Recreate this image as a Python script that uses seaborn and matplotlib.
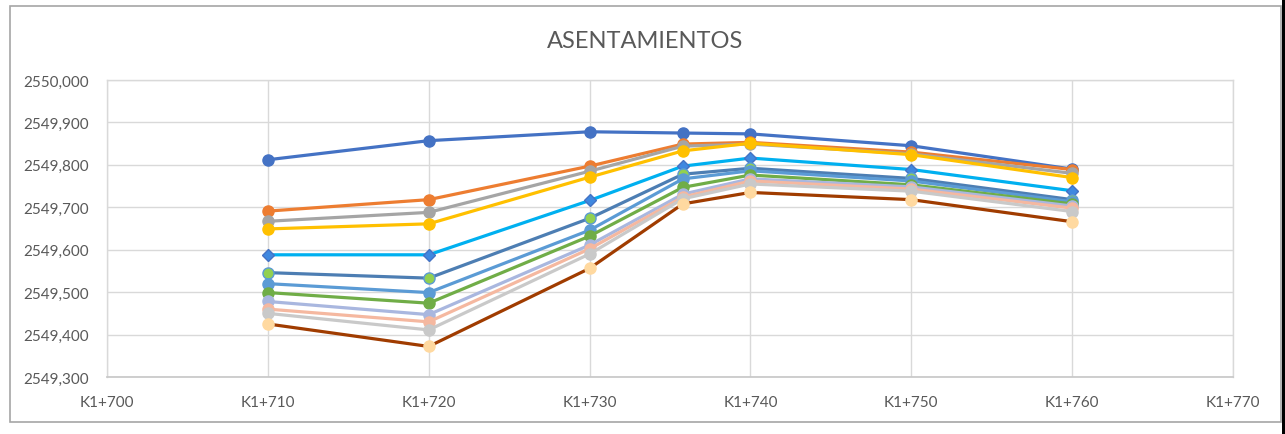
import pandas as pd
import matplotlib.pyplot as plt
import seaborn as sns
from matplotlib.ticker import FuncFormatter, MultipleLocator
from matplotlib.patches import Rectangle

sns.set_theme(style="white")
plt.rcParams['font.family'] = ['Lato', 'DejaVu Sans']

# ---------------- Datos ----------------
estaciones = [710, 720, 730, 735.8, 740, 750, 760]

s01 = [2549.812, 2549.857, 2549.878, 2549.875, 2549.873, 2549.845, 2549.790]
s02 = [2549.691, 2549.718, 2549.797, 2549.849, 2549.853, 2549.830, 2549.789]
s03 = [2549.667, 2549.688, 2549.785, 2549.844, 2549.849, 2549.826, 2549.780]
s04 = [2549.649, 2549.661, 2549.771, 2549.833, 2549.851, 2549.824, 2549.770]
s05 = [2549.588, 2549.588, 2549.716, 2549.797, 2549.816, 2549.789, 2549.739]
s06 = [2549.546, 2549.533, 2549.674, 2549.778, 2549.792, 2549.768, 2549.718]
s07 = [2549.520, 2549.499, 2549.646, 2549.767, 2549.786, 2549.762, 2549.713]
s08 = [2549.499, 2549.474, 2549.632, 2549.747, 2549.776, 2549.753, 2549.708]
s09 = [2549.478, 2549.447, 2549.611, 2549.731, 2549.767, 2549.748, 2549.703]
s10 = [2549.460, 2549.430, 2549.602, 2549.724, 2549.762, 2549.743, 2549.698]
s11 = [2549.450, 2549.411, 2549.590, 2549.720, 2549.755, 2549.738, 2549.690]
s12 = [2549.425, 2549.372, 2549.556, 2549.708, 2549.735, 2549.718, 2549.666]

series = [s01, s02, s03, s04, s05, s06, s07, s08, s09, s10, s11, s12]

# estilo de cada serie: (color linea, marcador, relleno, borde)
estilos = [
    ('#4472C4', 'o', '#4472C4', '#4472C4'),
    ('#ED7D31', 'o', '#ED7D31', '#ED7D31'),
    ('#A5A5A5', 'o', '#A5A5A5', '#A5A5A5'),
    ('#FFC000', 'o', '#FFC000', '#FFC000'),
    ('#00B0F0', 'D', '#3F88E0', '#4472C4'),
    ('#4D7EB3', 'o', '#92D050', '#5B9BD5'),
    ('#5B9BD5', 'o', '#5B9BD5', '#5B9BD5'),
    ('#70AD47', 'o', '#70AD47', '#70AD47'),
    ('#A9B7DF', 'o', '#A9B7DF', '#A9B7DF'),
    ('#F5B8A0', 'o', '#F5B8A0', '#F5B8A0'),
    ('#C9C9C9', 'o', '#C9C9C9', '#C9C9C9'),
    ('#A03C00', 'o', '#FFD9A0', '#FFD9A0'),
]

# ---------------- Gráfica ----------------
fig = plt.figure(figsize=(12.85, 4.35), dpi=100)
ax = fig.add_axes([107/1285, 57/435, 1126/1285, 297/435])

for i, (vals, (c, m, fc, ec)) in enumerate(zip(series, estilos)):
    df = pd.DataFrame({'x': estaciones, 'y': vals})
    ms = 6.5 if m == 'D' else 8
    sns.lineplot(data=df, x='x', y='y', ax=ax, sort=False, color=c, linewidth=2.3,
                 marker=m, markersize=ms, markerfacecolor=fc, markeredgecolor=ec,
                 markeredgewidth=1, zorder=3 + i)

ax.set_xlim(700, 770)
ax.set_ylim(2549.3, 2550.0)
ax.xaxis.set_major_locator(MultipleLocator(10))
ax.yaxis.set_major_locator(MultipleLocator(0.1))
ax.xaxis.set_major_formatter(FuncFormatter(lambda v, p: f"K1+{int(round(v))}"))
ax.yaxis.set_major_formatter(FuncFormatter(lambda v, p: f"{v:.3f}".replace('.', ',')))
ax.set_xlabel('')
ax.set_ylabel('')
ax.grid(True, color='#D9D9D9', linewidth=1)
ax.set_axisbelow(True)
for lado in ['left', 'top', 'right']:
    ax.spines[lado].set_color('#D9D9D9')
    ax.spines[lado].set_linewidth(1)
ax.spines['bottom'].set_color('#C8C8C8')
ax.tick_params(length=0, labelsize=11, labelcolor='#595959', pad=13)

fig.text(645/1285, 1 - 42/435, 'ASENTAMIENTOS', ha='center', va='center',
         fontsize=17, color='#595959')

# marco exterior
fig.patches.append(Rectangle((10/1285, 12/435), 1271/1285, 416/435, transform=fig.transFigure,
                             fill=False, edgecolor='#A6A6A6', linewidth=1.2))
fig.patches.append(Rectangle((1282/1285, 0), 3/1285, 1, transform=fig.transFigure,
                             facecolor='black', edgecolor='none'))

fig.savefig('out.png', dpi=100)
